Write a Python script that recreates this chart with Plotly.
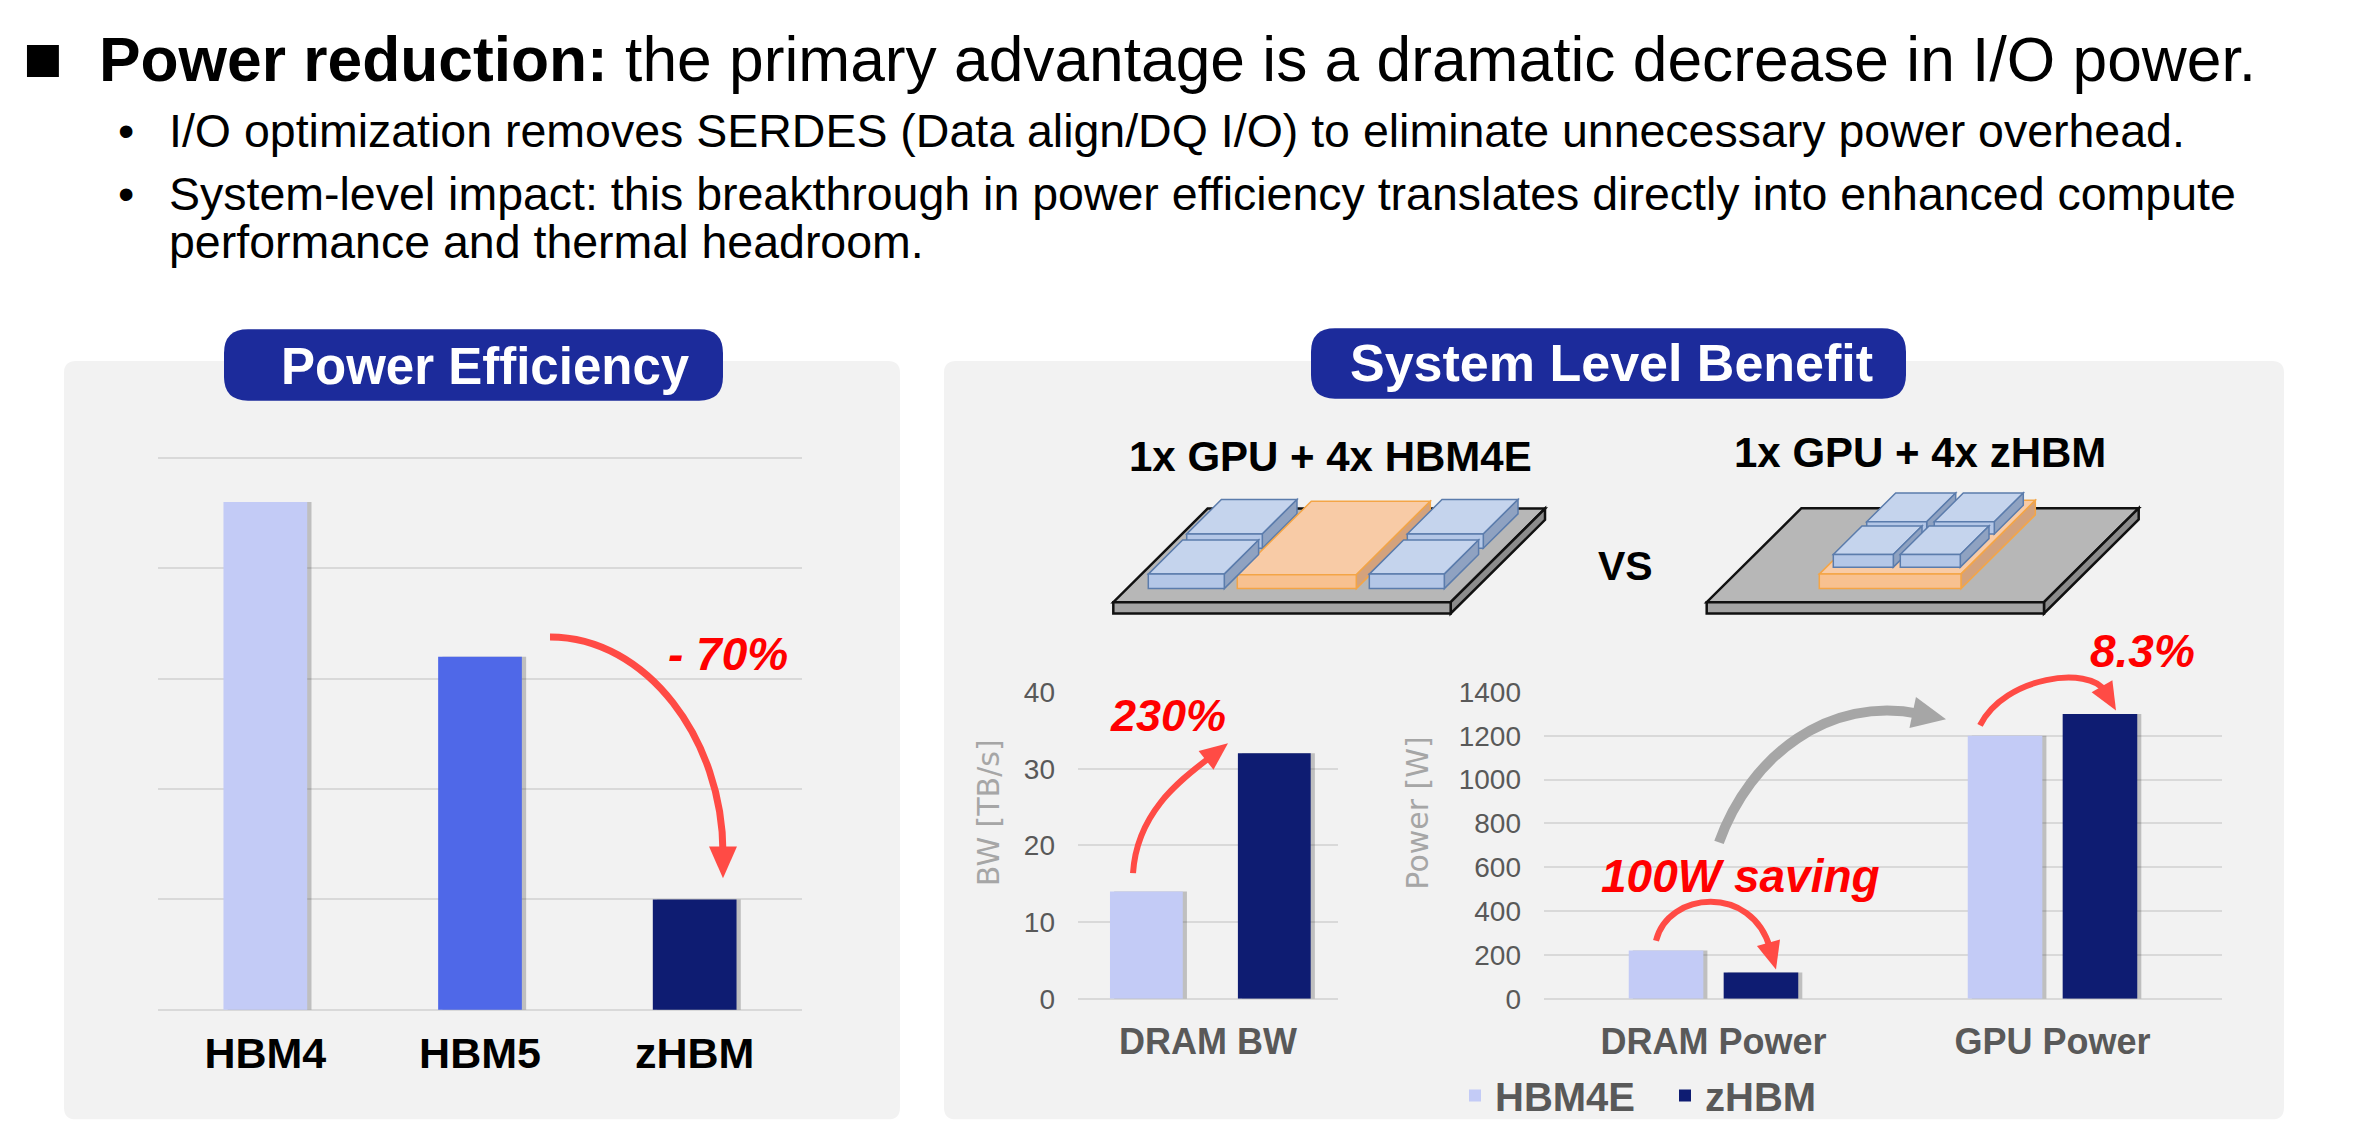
import numpy as np
import plotly.graph_objects as go

# window is 2358x1136, the page body keeps its 8px margin
OX, OY = 8, 8
W, H = 2358 - 2 * OX, 1136 - 2 * OY
# vertical fit measured from the returned screenshot
SY, TY = 1.0247, -23.1

# ---- data ----
eff_labels = ['HBM4', 'HBM5', 'zHBM']
eff_values = [4.6, 3.2, 1.0]

bw_labels = ['DRAM BW']
bw_hbm4e = [14]
bw_zhbm = [32]

pw_labels = ['DRAM Power', 'GPU Power']
pw_hbm4e = [220, 1200]
pw_zhbm = [120, 1300]

# ---- styles ----
LIGHT = '#c3cbf6'
MID = '#4f68e8'
DARK = '#0e1c72'
SHADOW = 'rgba(60,60,60,0.28)'
PANEL = '#f2f2f2'
PILL = '#1c2b9b'
GRID = '#d9d9d9'
RED = '#ff0000'
ARROW_RED = '#ff4b45'
GREY_TXT = '#595959'
FONT = 'Liberation Sans, Arial, sans-serif'


def px(x):
    return (x - OX) / W


def py(y):
    return 1 - (SY * y + TY) / H


def P(x, y):
    return f'{px(x):.5f},{py(y):.5f}'


def poly(pts):
    return 'M ' + ' L '.join(P(x, y) for x, y in pts) + ' Z'


def rrect(x0, y0, x1, y1, r):
    return (f'M {P(x0 + r, y0)} L {P(x1 - r, y0)} Q {P(x1, y0)} {P(x1, y0 + r)} '
            f'L {P(x1, y1 - r)} Q {P(x1, y1)} {P(x1 - r, y1)} L {P(x0 + r, y1)} '
            f'Q {P(x0, y1)} {P(x0, y1 - r)} L {P(x0, y0 + r)} Q {P(x0, y0)} {P(x0 + r, y0)} Z')


def shape(path, fill, line_color=None, lw=0, layer='above'):
    return dict(type='path', xref='paper', yref='paper', path=path, fillcolor=fill,
                line=dict(color=line_color or fill, width=lw), layer=layer)


def box(x0, yt, w, h, d, top, front, side, edge, lw):
    top_pts = [(x0, yt), (x0 + w, yt), (x0 + w + d, yt - d), (x0 + d, yt - d)]
    side_pts = [(x0 + w, yt), (x0 + w + d, yt - d), (x0 + w + d, yt - d + h), (x0 + w, yt + h)]
    front_pts = [(x0, yt), (x0 + w, yt), (x0 + w, yt + h), (x0, yt + h)]
    return [shape(poly(top_pts), top, edge, lw),
            shape(poly(side_pts), side, edge, lw),
            shape(poly(front_pts), front, edge, lw)]


def arrow(p0, c1, c2, tip, color, lw, hl, hw):
    p0, c1, c2, tip = [np.array(p, dtype=float) for p in (p0, c1, c2, tip)]
    d = tip - c2
    d /= np.linalg.norm(d)
    n = np.array([-d[1], d[0]])
    end = tip - d * hl * 0.8
    base = tip - d * hl
    shaft = dict(type='path', xref='paper', yref='paper', layer='above',
                 path=f'M {P(*p0)} C {P(*c1)} {P(*c2)} {P(*end)}',
                 line=dict(color=color, width=lw))
    head = shape(poly([tip, base + n * hw / 2, base - n * hw / 2]), color)
    return [shaft, head]


def hbm(x0, yt, w, h, d):
    return box(x0, yt, w, h, d, '#c5d4ed', '#b4c7e7', '#8fa2c1', '#5b7cac', 1.5)


def orange(x0, yt, w, h, d):
    return box(x0, yt, w, h, d, '#f8cba6', '#f8c190', '#d4a27c', '#f4a546', 1.5)


def substrate(x0, yt, w, h, d):
    return box(x0, yt, w, h, d, '#b7b7b7', '#a5a5a5', '#8c8c8c', '#111111', 2.5)


shapes = [
    shape(rrect(64, 363, 900, 1127, 12), PANEL, layer='below'),
    shape(rrect(944, 363, 2284, 1127, 12), PANEL, layer='below'),
    shape(rrect(224, 331, 723, 403, 24), PILL, layer='below'),
    shape(rrect(1311, 330, 1906, 401, 24), PILL, layer='below'),
]

# left package: GPU between HBM stacks
shapes += substrate(1113.3, 606, 337.4, 11.3, 94.3)
shapes += hbm(1186.7, 537.3, 75.6, 14.4, 34.7)
shapes += orange(1237.3, 578.3, 119, 14, 74)
shapes += hbm(1407.3, 537.3, 76, 14.4, 34.7)
shapes += hbm(1148.3, 577.7, 76, 14.6, 34.3)
shapes += hbm(1369.3, 577.7, 75, 14.6, 34.3)

# right package: zHBM stacked on GPU
shapes += substrate(1706.7, 606, 337.3, 11.3, 94.7)
shapes += orange(1819.3, 577.7, 141.7, 14.6, 74.3)
shapes += hbm(1866.7, 525, 60, 12.3, 29)
shapes += hbm(1934.3, 525, 60, 12.3, 29)
shapes += hbm(1833.3, 558, 60, 12.7, 28.7)
shapes += hbm(1900.3, 558, 60, 12.7, 28.7)

# arrows
shapes += arrow((550, 641), (647, 641), (723, 745), (723, 884), ARROW_RED, 7, 32, 28)
shapes += arrow((1133, 879), (1137, 815), (1185, 782), (1228, 748), ARROW_RED, 6, 28, 24)
shapes += arrow((1656, 947), (1668, 897), (1752, 890), (1776, 976), ARROW_RED, 6, 28, 24)
shapes += arrow((1980, 730), (2005, 680), (2090, 670), (2116, 715), ARROW_RED, 6, 28, 24)
shapes += arrow((1719, 848), (1750, 760), (1830, 700), (1946, 724), '#a6a6a6', 10, 34, 32)


def txt(s, x, y, size, color='black', xanchor='left', family=FONT, angle=0):
    return dict(text=s, x=px(x), y=py(y), xref='paper', yref='paper', xanchor=xanchor,
                yanchor='middle', showarrow=False, textangle=angle,
                font=dict(size=size, color=color, family=family))


annotations = [
    txt('■', 43, 58, 66, xanchor='center'),
    txt('<b>Power reduction:</b> the primary advantage is a dramatic decrease in I/O power.', 97, 59.5, 62.3),
    txt('•', 126, 131, 46.5, xanchor='center'),
    txt('I/O optimization removes SERDES (Data align/DQ I/O) to eliminate unnecessary power overhead.',
        167, 131, 46.5),
    txt('•', 126, 194.5, 46.5, xanchor='center'),
    txt('System-level impact: this breakthrough in power efficiency translates directly into enhanced compute',
        167, 194.5, 46.5),
    txt('performance and thermal headroom.', 167, 243.5, 46.5),
    txt('<b>Power Efficiency</b>', 486, 369, 51, 'white', 'center'),
    txt('<b>System Level Benefit</b>', 1611, 365, 52, 'white', 'center'),
    txt('<b>1x GPU + 4x HBM4E</b>', 1330, 459, 42, xanchor='center'),
    txt('<b>1x GPU + 4x zHBM</b>', 1920, 455, 42, xanchor='center'),
    txt('<b>VS</b>', 1625, 570, 41, xanchor='center'),
    txt('<b><i>- 70%</i></b>', 728, 658, 46, RED, 'center'),
    txt('<b><i>230%</i></b>', 1168, 720, 45, RED, 'center'),
    txt('<b><i>100W saving</i></b>', 1740, 882, 46, RED, 'center'),
    txt('<b><i>8.3%</i></b>', 2142, 655, 46, RED, 'center'),
    txt('BW [TB/s]', 988.5, 818, 30, '#a6a6a6', 'center', 'DejaVu Sans', -90),
    txt('Power [W]', 1418, 819, 30, '#a6a6a6', 'center', 'DejaVu Sans', -90),
]

fig = go.Figure()

# soft drop shadows to the right of each bar (drawn first, so they sit behind)
fig.add_trace(go.Bar(x=eff_labels, y=eff_values, marker=dict(color=SHADOW, line_width=0),
                     width=0.39, offset=-0.195 + 0.02, xaxis='x', yaxis='y',
                     showlegend=False, hoverinfo='skip'))
for vals, off in [(bw_hbm4e, -0.377), (bw_zhbm, 0.115)]:
    fig.add_trace(go.Bar(x=bw_labels, y=vals, marker=dict(color=SHADOW, line_width=0),
                         width=0.28, offset=off + 0.016, xaxis='x2', yaxis='y2',
                         showlegend=False, hoverinfo='skip'))
for vals, off in [(pw_hbm4e, -0.25), (pw_zhbm, 0.03)]:
    fig.add_trace(go.Bar(x=pw_labels, y=vals, marker=dict(color=SHADOW, line_width=0),
                         width=0.22, offset=off + 0.012, xaxis='x3', yaxis='y3',
                         showlegend=False, hoverinfo='skip'))

fig.add_trace(go.Bar(x=eff_labels, y=eff_values, marker=dict(color=[LIGHT, MID, DARK], line_width=0),
                     width=0.39, offset=-0.195, xaxis='x', yaxis='y', showlegend=False))
fig.add_trace(go.Bar(x=bw_labels, y=bw_hbm4e, name='HBM4E', marker=dict(color=LIGHT, line_width=0),
                     width=0.28, offset=-0.377, xaxis='x2', yaxis='y2', showlegend=False))
fig.add_trace(go.Bar(x=bw_labels, y=bw_zhbm, name='zHBM', marker=dict(color=DARK, line_width=0),
                     width=0.28, offset=0.115, xaxis='x2', yaxis='y2', showlegend=False))
fig.add_trace(go.Bar(x=pw_labels, y=pw_hbm4e, name='HBM4E', marker=dict(color=LIGHT, line_width=0),
                     width=0.22, offset=-0.25, xaxis='x3', yaxis='y3'))
fig.add_trace(go.Bar(x=pw_labels, y=pw_zhbm, name='zHBM', marker=dict(color=DARK, line_width=0),
                     width=0.22, offset=0.03, xaxis='x3', yaxis='y3'))

ygrid = dict(gridcolor=GRID, gridwidth=2, zeroline=True, zerolinecolor=GRID, zerolinewidth=2,
             showline=False, fixedrange=True)
xcat = dict(showgrid=False, showline=False, zeroline=False, fixedrange=True)

fig.update_layout(
    width=W, height=H,
    margin=dict(l=0, r=0, t=0, b=0, pad=0),
    paper_bgcolor='white', plot_bgcolor='rgba(0,0,0,0)',
    font=dict(family=FONT, color='black'),
    barmode='overlay',
    xaxis=dict(domain=[px(158), px(802)], anchor='y', range=[-0.5, 2.5], ticklabelstandoff=14,
               tickfont=dict(size=43, color='black', weight='bold'), **xcat),
    yaxis=dict(domain=[py(1016.7), py(458.5)], anchor='x', range=[0, 5.02], dtick=1,
               showticklabels=False, **ygrid),
    xaxis2=dict(domain=[px(1078), px(1338)], anchor='y2', range=[-0.5, 0.5], ticklabelstandoff=18,
                tickfont=dict(size=36, color=GREY_TXT, weight='bold'), **xcat),
    yaxis2=dict(domain=[py(1005.5), py(696.5)], anchor='x2', range=[0, 40], dtick=10,
                ticklabelstandoff=22, tickfont=dict(size=28, color=GREY_TXT), **ygrid),
    xaxis3=dict(domain=[px(1544), px(2222)], anchor='y3', range=[-0.5, 1.5], ticklabelstandoff=18,
                tickfont=dict(size=36, color=GREY_TXT, weight='bold'), **xcat),
    yaxis3=dict(domain=[py(1005.5), py(696.5)], anchor='x3', range=[0, 1400], dtick=200,
                ticklabelstandoff=22, tickfont=dict(size=28, color=GREY_TXT), **ygrid),
    legend=dict(orientation='h', x=px(1455), y=py(1103), xanchor='left', yanchor='middle',
                entrywidth=165, entrywidthmode='pixels',
                font=dict(size=40, color=GREY_TXT, weight='bold'), bgcolor='rgba(0,0,0,0)'),
    shapes=shapes,
    annotations=annotations,
)

fig.write_html('out.html')
